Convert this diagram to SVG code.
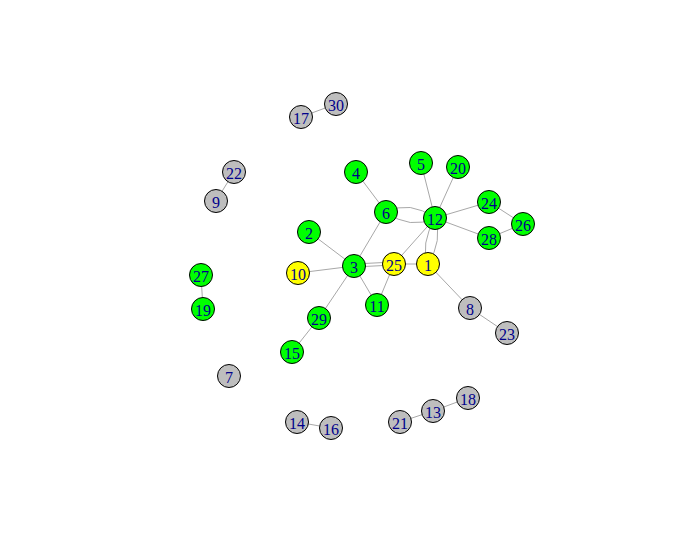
<svg xmlns="http://www.w3.org/2000/svg" width="688" height="552" viewBox="0 0 688 552">
<style>
.e{stroke:#a8a8a8;stroke-width:1;fill:none}
.n circle{stroke:#000;stroke-width:1}
.g circle{fill:#00ff00}
.y circle{fill:#ffff00}
.s circle{fill:#bebebe}
text{font-family:"Liberation Serif",serif;font-size:16px;fill:#00008b;text-anchor:middle;dominant-baseline:central}
</style>
<rect width="688" height="552" fill="#fff"/>
<g id="edges">
<line class="e" x1="336" y1="104" x2="301" y2="117"/>
<line class="e" x1="234" y1="172" x2="216" y2="201"/>
<line class="e" x1="201" y1="275" x2="203" y2="309"/>
<line class="e" x1="297" y1="422" x2="331" y2="428"/>
<line class="e" x1="400" y1="422" x2="433" y2="411"/>
<line class="e" x1="433" y1="411" x2="468" y2="398"/>
<line class="e" x1="470" y1="308" x2="507" y2="333"/>
<line class="e" x1="428" y1="264" x2="470" y2="308"/>
<line class="e" x1="356" y1="172" x2="386" y2="212"/>
<path class="e" d="M386 212 Q410 200 435 218"/>
<path class="e" d="M386 212 Q410 230 435 218"/>
<line class="e" x1="435" y1="218" x2="421" y2="163"/>
<line class="e" x1="435" y1="218" x2="458" y2="167"/>
<line class="e" x1="435" y1="218" x2="489" y2="202"/>
<line class="e" x1="435" y1="218" x2="489" y2="238"/>
<line class="e" x1="489" y1="202" x2="523" y2="224"/>
<line class="e" x1="489" y1="238" x2="523" y2="224"/>
<path class="e" d="M435 218 Q420 245 428 264"/>
<path class="e" d="M435 218 Q443 240 428 264"/>
<line class="e" x1="435" y1="218" x2="394" y2="264"/>
<line class="e" x1="386" y1="212" x2="354" y2="266"/>
<line class="e" x1="309" y1="232" x2="354" y2="266"/>
<line class="e" x1="298" y1="273" x2="354" y2="266"/>
<line class="e" x1="354" y1="264" x2="394" y2="262"/>
<line class="e" x1="354" y1="267" x2="394" y2="265"/>
<line class="e" x1="394" y1="264" x2="428" y2="264"/>
<line class="e" x1="354" y1="266" x2="377" y2="305"/>
<line class="e" x1="377" y1="305" x2="394" y2="264"/>
<line class="e" x1="354" y1="266" x2="319" y2="318"/>
<line class="e" x1="319" y1="318" x2="292" y2="352"/>
</g>
<g id="n30" class="n s"><circle cx="336" cy="104" r="11.5"/><text x="336" y="105">30</text></g>
<g id="n17" class="n s"><circle cx="301" cy="117" r="11.5"/><text x="301" y="118">17</text></g>
<g id="n22" class="n s"><circle cx="234" cy="172" r="11.5"/><text x="234" y="173">22</text></g>
<g id="n9" class="n s"><circle cx="216" cy="201" r="11.5"/><text x="216" y="202">9</text></g>
<g id="n4" class="n g"><circle cx="356" cy="172" r="11.5"/><text x="356" y="173">4</text></g>
<g id="n5" class="n g"><circle cx="421" cy="163" r="11.5"/><text x="421" y="164">5</text></g>
<g id="n20" class="n g"><circle cx="458" cy="167" r="11.5"/><text x="458" y="168">20</text></g>
<g id="n6" class="n g"><circle cx="386" cy="212" r="11.5"/><text x="386" y="213">6</text></g>
<g id="n12" class="n g"><circle cx="435" cy="218" r="11.5"/><text x="435" y="219">12</text></g>
<g id="n24" class="n g"><circle cx="489" cy="202" r="11.5"/><text x="489" y="203">24</text></g>
<g id="n26" class="n g"><circle cx="523" cy="224" r="11.5"/><text x="523" y="225">26</text></g>
<g id="n28" class="n g"><circle cx="489" cy="238" r="11.5"/><text x="489" y="239">28</text></g>
<g id="n2" class="n g"><circle cx="309" cy="232" r="11.5"/><text x="309" y="233">2</text></g>
<g id="n3" class="n g"><circle cx="354" cy="266" r="11.5"/><text x="354" y="267">3</text></g>
<g id="n25" class="n y"><circle cx="394" cy="264" r="11.5"/><text x="394" y="265">25</text></g>
<g id="n1" class="n y"><circle cx="428" cy="264" r="11.5"/><text x="428" y="265">1</text></g>
<g id="n10" class="n y"><circle cx="298" cy="273" r="11.5"/><text x="298" y="274">10</text></g>
<g id="n27" class="n g"><circle cx="201" cy="275" r="11.5"/><text x="201" y="276">27</text></g>
<g id="n19" class="n g"><circle cx="203" cy="309" r="11.5"/><text x="203" y="310">19</text></g>
<g id="n11" class="n g"><circle cx="377" cy="305" r="11.5"/><text x="377" y="306">11</text></g>
<g id="n8" class="n s"><circle cx="470" cy="308" r="11.5"/><text x="470" y="309">8</text></g>
<g id="n23" class="n s"><circle cx="507" cy="333" r="11.5"/><text x="507" y="334">23</text></g>
<g id="n29" class="n g"><circle cx="319" cy="318" r="11.5"/><text x="319" y="319">29</text></g>
<g id="n15" class="n g"><circle cx="292" cy="352" r="11.5"/><text x="292" y="353">15</text></g>
<g id="n7" class="n s"><circle cx="229" cy="376" r="11.5"/><text x="229" y="377">7</text></g>
<g id="n14" class="n s"><circle cx="297" cy="422" r="11.5"/><text x="297" y="423">14</text></g>
<g id="n16" class="n s"><circle cx="331" cy="428" r="11.5"/><text x="331" y="429">16</text></g>
<g id="n21" class="n s"><circle cx="400" cy="422" r="11.5"/><text x="400" y="423">21</text></g>
<g id="n13" class="n s"><circle cx="433" cy="411" r="11.5"/><text x="433" y="412">13</text></g>
<g id="n18" class="n s"><circle cx="468" cy="398" r="11.5"/><text x="468" y="399">18</text></g>
</svg>
